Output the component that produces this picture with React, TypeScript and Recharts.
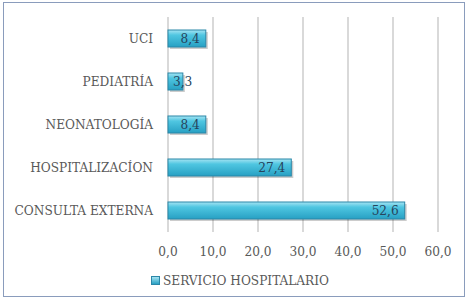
import React from 'react';
import { BarChart, Bar, XAxis, YAxis, CartesianGrid, LabelList, Legend } from 'recharts';

const categories = ['UCI', 'PEDIATRÍA', 'NEONATOLOGÍA', 'HOSPITALIZACÍON', 'CONSULTA EXTERNA'];
const values = [8.4, 3.3, 8.4, 27.4, 52.6];
const xTicks = [0, 10, 20, 30, 40, 50, 60];
const seriesName = 'SERVICIO HOSPITALARIO';

const data = categories.map((name, i) => ({ name, value: values[i] }));

const FONT = "'DejaVu Serif Condensed', 'DejaVu Serif', serif";
const FS = 13.5;
const fmt = (v: number) => v.toFixed(1).replace('.', ',');

const BarShape = (props: any) => {
  const { x, y, width, height, index } = props;
  const id = `barGrad${index}`;
  return (
    <g>
      <defs>
        <linearGradient id={id} x1="0" y1="0" x2="0" y2="1">
          <stop offset="0%" stopColor="#a6e4f3" />
          <stop offset="30%" stopColor="#4fc6e1" />
          <stop offset="100%" stopColor="#27a0c3" />
        </linearGradient>
      </defs>
      <rect x={x + 2} y={y + 2} width={width} height={height} fill="rgba(0,0,0,0.2)" />
      <rect x={x} y={y} width={width} height={height} fill={`url(#${id})`} stroke="#2b87a8" strokeWidth={1} />
    </g>
  );
};

const ValueLabel = (props: any) => {
  const { x, y, width, height, value } = props;
  const short = width < 30;
  return (
    <text
      x={short ? x + 5 : x + width - 6}
      y={y + height / 2}
      dy="0.35em"
      textAnchor={short ? 'start' : 'end'}
      fill="#26445c"
      fontSize={FS}
      fontFamily={FONT}
    >
      {fmt(value)}
    </text>
  );
};

const LegendContent = () => (
  <div style={{ width: 472, display: 'flex', justifyContent: 'center', alignItems: 'center', paddingLeft: 4 }}>
    <span
      style={{
        display: 'inline-block',
        width: 7,
        height: 7,
        marginRight: 3,
        background: 'linear-gradient(#a6e4f3, #27a0c3)',
        border: '1px solid #2b87a8',
      }}
    />
    <span style={{ fontFamily: FONT, fontSize: FS, color: '#595959' }}>{seriesName}</span>
  </div>
);

export default function App() {
  return (
    <div style={{ position: 'absolute', left: 0, top: 0, width: 472, height: 302, background: '#fff' }}>
      <div
        style={{
          position: 'absolute',
          left: 3,
          top: 2,
          width: 460,
          height: 293,
          border: '1.5px solid #8a9cbc',
        }}
      />
      <BarChart
        width={472}
        height={302}
        data={data}
        layout="vertical"
        margin={{ top: 17, right: 34, left: 0, bottom: 4 }}
        barCategoryGap={13}
      >
        <CartesianGrid horizontal={false} stroke="#d9d9d9" strokeWidth={2} />
        <XAxis
          type="number"
          domain={[0, 60]}
          ticks={xTicks}
          tickFormatter={fmt}
          axisLine={false}
          tickLine={false}
          tickMargin={8}
          height={40}
          tick={{ fill: '#595959', fontSize: FS, fontFamily: FONT }}
        />
        <YAxis
          type="category"
          dataKey="name"
          width={168}
          axisLine={false}
          tickLine={false}
          tickMargin={9}
          tick={{ fill: '#595959', fontSize: FS, fontFamily: FONT }}
        />
        <Legend verticalAlign="bottom" height={26} content={<LegendContent />} wrapperStyle={{ left: 0, width: 472 }} />
        <Bar dataKey="value" name={seriesName} barSize={17} shape={<BarShape />} isAnimationActive={false}>
          <LabelList dataKey="value" content={<ValueLabel />} />
        </Bar>
      </BarChart>
    </div>
  );
}
